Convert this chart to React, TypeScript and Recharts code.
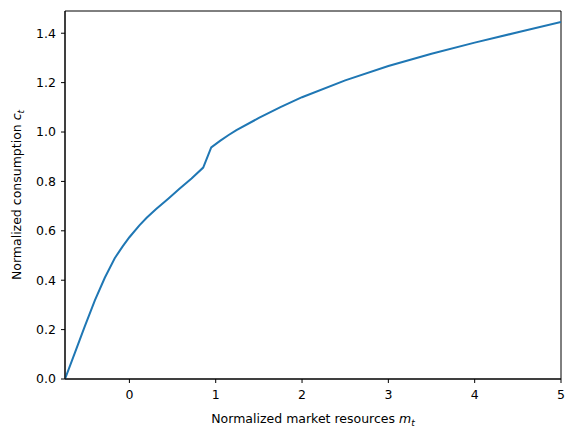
import React from 'react';
import { ComposedChart, Line, XAxis, YAxis, ReferenceArea } from 'recharts';

// normalized market resources m_t
const mValues = [
  -0.746, -0.634, -0.518, -0.4, -0.285, -0.17, -0.08, 0, 0.116, 0.2, 0.31, 0.45, 0.58, 0.72,
  0.855, 0.948, 1.05, 1.15, 1.24, 1.5, 1.75, 2.0, 2.5, 3.0, 3.5, 4.0, 4.5, 5.0,
];
// normalized consumption c_t
const cValues = [
  0, 0.104, 0.212, 0.318, 0.41, 0.489, 0.536, 0.574, 0.622, 0.653, 0.688, 0.73, 0.77, 0.812,
  0.856, 0.938, 0.964, 0.988, 1.008, 1.057, 1.101, 1.141, 1.209, 1.267, 1.317, 1.362, 1.404, 1.446,
];
const xTicks = [0, 1, 2, 3, 4, 5];
const yTicks = [0, 0.2, 0.4, 0.6, 0.8, 1.0, 1.2, 1.4];

const data = mValues.map((m, i) => ({ m, c: cValues[i] }));

const FONT = 'DejaVu Sans, sans-serif';
const X_MIN = -0.746;
const X_MAX = 5;
const Y_MAX = 1.49;

const XLabel = () => (
  <text x={313} y={423} textAnchor="middle" fontFamily={FONT} fontSize={12.5} fill="#000">
    Normalized market resources <tspan fontStyle="italic">m</tspan>
    <tspan fontStyle="italic" fontSize={9} dy={3}>t</tspan>
  </text>
);

const YLabel = () => (
  <text
    x={21}
    y={195}
    textAnchor="middle"
    fontFamily={FONT}
    fontSize={12.5}
    fill="#000"
    transform="rotate(-90 21 195)"
  >
    Normalized consumption <tspan fontStyle="italic">c</tspan>
    <tspan fontStyle="italic" fontSize={9} dy={3}>t</tspan>
  </text>
);

export default function App() {
  return (
    <div style={{ position: 'absolute', left: 0, top: 0, width: 575, height: 436, background: '#fff' }}>
      <ComposedChart
        width={575}
        height={436}
        data={data}
        margin={{ top: 11, right: 14, bottom: 0, left: 0 }}
      >
        <XAxis
          dataKey="m"
          type="number"
          domain={[X_MIN, X_MAX]}
          ticks={xTicks}
          allowDataOverflow
          height={57}
          tickSize={4}
          tickMargin={7}
          stroke="#000"
          tick={{ fill: '#000', fontSize: 12.5, fontFamily: FONT }}
          label={<XLabel />}
        />
        <YAxis
          type="number"
          domain={[0, Y_MAX]}
          ticks={yTicks}
          allowDataOverflow
          width={65}
          tickSize={4}
          tickMargin={5}
          stroke="#000"
          tickFormatter={(v: number) => v.toFixed(1)}
          tick={{ fill: '#000', fontSize: 12.5, fontFamily: FONT }}
          label={<YLabel />}
        />
        <ReferenceArea x1={X_MIN} x2={X_MAX} y1={0} y2={Y_MAX} fill="none" stroke="#000" strokeWidth={1} />
        <Line
          type="linear"
          dataKey="c"
          stroke="#1f77b4"
          strokeWidth={2}
          dot={false}
          isAnimationActive={false}
        />
      </ComposedChart>
    </div>
  );
}
